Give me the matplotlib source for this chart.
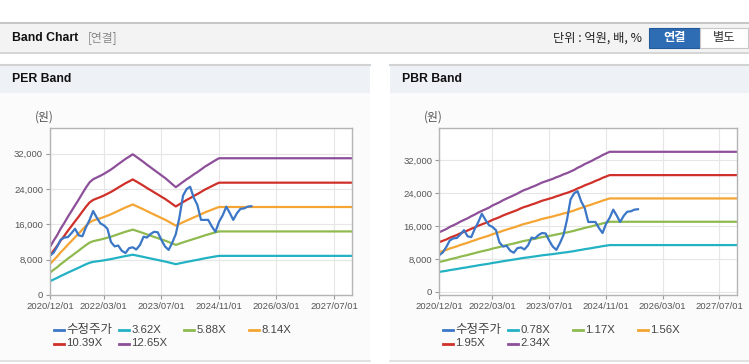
import matplotlib
matplotlib.use("Agg")
import matplotlib.pyplot as plt
from matplotlib.patches import Rectangle
from matplotlib.lines import Line2D
import pandas as pd

plt.rcParams['font.family'] = ['Liberation Sans', 'Noto Sans CJK KR', 'DejaVu Sans']

# ---------------- data ----------------
price_start = '2020-12-01'
price = [8900, 9600, 11000, 12500, 13000, 13100, 14000, 15000, 13500, 13300,
         15300, 17000, 19000, 17500, 16200, 15800, 15000, 12000, 11000, 11200,
         10000, 9500, 10600, 10800, 10300, 11300, 13200, 13000, 13800, 14300,
         14200, 12500, 11000, 10200, 11800, 13800, 17500, 22500, 24000, 24500,
         22000, 20400, 17000, 17000, 17000, 15500, 14300, 16600, 18000, 20000,
         18500, 17000, 18500, 19500, 19600, 20000, 20100]

# EPS (PER band base), monthly from 2020-12, last value held to end of axis
eps = [862, 972, 1075, 1186, 1289, 1399, 1502, 1605, 1708, 1818,
       1921, 2016, 2071, 2103, 2134, 2166, 2206, 2245, 2292, 2340,
       2387, 2435, 2474, 2518, 2474, 2427, 2379, 2332, 2285, 2237,
       2190, 2142, 2095, 2040, 1984, 1929, 1976, 2024, 2071, 2111,
       2158, 2198, 2245, 2292, 2332, 2372, 2411, 2447, 2447]
# BPS (PBR band base)
bps = [6197, 6368, 6538, 6752, 6923, 7094, 7308, 7479, 7650, 7863,
       8034, 8248, 8419, 8590, 8761, 8974, 9145, 9316, 9530, 9701,
       9872, 10043, 10214, 10427, 10598, 10726, 10897, 11026, 11197, 11368,
       11496, 11624, 11752, 11923, 12051, 12222, 12350, 12521, 12692, 12906,
       13077, 13291, 13462, 13632, 13846, 14017, 14231, 14402, 14573, 14573]
axis_end = '2027-12-01'

per_mult = [3.62, 5.88, 8.14, 10.39, 12.65]
per_labels = ['3.62X', '5.88X', '8.14X', '10.39X', '12.65X']
pbr_mult = [0.78, 1.17, 1.56, 1.95, 2.34]
pbr_labels = ['0.78X', '1.17X', '1.56X', '1.95X', '2.34X']
price_label = '수정주가'

xtick_dates = ['2020/12/01', '2022/03/01', '2023/07/01', '2024/11/01', '2026/03/01', '2027/07/01']
yticks = [0, 8000, 16000, 24000, 32000]

band_colors = ['#22b2c4', '#8fba4f', '#f4a533', '#cf3029', '#8d4f99']
price_color = '#3b77c6'

price_dates = pd.date_range(price_start, periods=len(price), freq='MS')
eps_dates = list(pd.date_range(price_start, periods=len(eps) - 1, freq='MS')) + [pd.Timestamp(axis_end)]
bps_dates = list(pd.date_range(price_start, periods=len(bps) - 1, freq='MS')) + [pd.Timestamp(axis_end)]

KR = ['Noto Sans CJK KR', 'DejaVu Sans']

W, H = 749, 364
fig = plt.figure(figsize=(W / 100, H / 100), dpi=100)
fig.patch.set_facecolor('white')

def fx(x): return x / W
def fy(y): return 1 - y / H

def rect(x0, y0, x1, y1, fc, ec='none', lw=0, z=-10):
    fig.patches.append(Rectangle((fx(x0), fy(y1)), fx(x1) - fx(x0), fy(y0) - fy(y1),
                                 transform=fig.transFigure, facecolor=fc, edgecolor=ec,
                                 linewidth=lw, zorder=z))

def hline(x0, x1, y, c, lw=1.0):
    fig.lines.append(Line2D([fx(x0), fx(x1)], [fy(y), fy(y)], transform=fig.transFigure,
                            color=c, linewidth=lw, zorder=-5))

# top header bar
rect(0, 22, W, 53, '#f3f3f3')
hline(0, W, 22.5, '#bdbdbd', 1.2)
hline(0, W, 53, '#cfcfcf', 1.2)
fig.text(fx(11.5), fy(38), 'Band Chart', fontsize=8.8, fontweight='bold', color='#111', va='center', ha='left')
fig.text(fx(88), fy(38), '[연결]', fontsize=8.5, color='#888', va='center', ha='left', family=KR)
fig.text(fx(642), fy(38), '단위 : 억원, 배, %', fontsize=8.8, color='#222', va='center', ha='right', family=KR)
rect(649, 28, 700, 48, '#2e6db4', ec='#245a99', lw=0.8, z=2)
rect(700, 28, 748, 48, '#ffffff', ec='#c8c8c8', lw=0.8, z=2)
fig.text(fx(674.5), fy(38), '연결', fontsize=8.8, fontweight='bold', color='white', va='center', ha='center',
         family=KR, zorder=3)
fig.text(fx(724), fy(38), '별도', fontsize=8.8, color='#333', va='center', ha='center', family=KR, zorder=3)

# panels
for (px0, px1, title) in [(0, 370, 'PER Band'), (390, W, 'PBR Band')]:
    rect(px0, 64, px1, 93, '#eef1f6')
    rect(px0, 93, px1, 361, '#fbfbfb')
    hline(px0, px1, 64.5, '#d2d2d2', 1.5)
    hline(px0, px1, 361, '#dcdcdc', 1.2)
    fig.text(fx(px0 + 11.5), fy(79), title, fontsize=8.8, fontweight='bold', color='#111', va='center', ha='left')

def make_axes(left_px, right_px, ylim, base, base_dates, mults, labels, unit_x, leg_x0):
    ax = fig.add_axes([fx(left_px), fy(295), fx(right_px) - fx(left_px), fy(128) - fy(295)])
    ax.set_facecolor('white')
    for m, c in zip(mults, band_colors):
        ax.plot(base_dates, [m * v for v in base], color=c, lw=1.6, solid_capstyle='butt')
    ax.plot(price_dates, price, color=price_color, lw=1.6)
    ax.set_xlim(pd.Timestamp(price_start), pd.Timestamp(axis_end))
    ax.set_ylim(*ylim)
    ax.set_yticks(yticks)
    ax.set_yticklabels([f'{v:,}' for v in yticks])
    xt = [pd.Timestamp(d.replace('/', '-')) for d in xtick_dates]
    ax.set_xticks(xt)
    ax.set_xticklabels(xtick_dates)
    ax.grid(True, color='#e6e6e6', lw=0.8)
    ax.set_axisbelow(True)
    for s in ax.spines.values():
        s.set_color('#b4b4b4')
        s.set_linewidth(1.0)
    ax.tick_params(axis='both', colors='#9a9a9a', labelcolor='#555555', labelsize=6.8,
                   length=3, width=0.8, pad=2)
    fig.text(fx(unit_x), fy(117), '(원)', fontsize=8.5, color='#555', va='center', ha='center', family=KR)
    # legend
    items = [(price_label, price_color)] + list(zip(labels, band_colors))
    for i, (lab, c) in enumerate(items):
        row, col = divmod(i, 4)
        lx = leg_x0 + col * 65
        ly = 330 + row * 13.5
        fig.lines.append(Line2D([fx(lx), fx(lx + 10)], [fy(ly), fy(ly)], transform=fig.transFigure,
                                color=c, linewidth=2))
        fs = 9 if i == 0 else 8.2
        fig.text(fx(lx + 12.5), fy(ly), lab, fontsize=fs, color='#444', va='center', ha='left',
                 family=['Liberation Sans', 'Noto Sans CJK KR'])
    return ax

make_axes(50, 352, (0, 37800), eps, eps_dates, per_mult, per_labels, 44, 54)
make_axes(439.3, 737.3, (-800, 39900), bps, bps_dates, pbr_mult, pbr_labels, 433, 443)

fig.savefig('out.png', dpi=100)
